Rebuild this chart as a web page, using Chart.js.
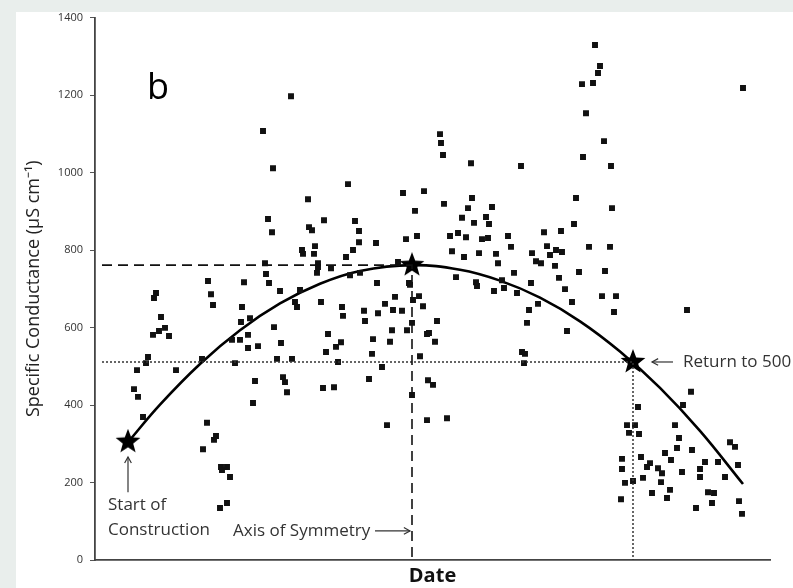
<!DOCTYPE html>
<html lang="en">
<head>
<meta charset="UTF-8">
<title>Specific Conductance</title>
<script src="https://cdn.jsdelivr.net/npm/chart.js"></script>
<style>
  html, body { margin: 0; padding: 0; background: #e9eeec; }
</style>
</head>
<body>
<canvas id="grafico" width="793" height="588"></canvas>

<script>
// x = day index since the start of the record (the axis has no labels)
const sampleDay = [
  39, 43, 48, 42, 53, 51, 61, 59, 66, 70, 64, 58, 74, 81, 107, 113, 116, 118, 149, 147,
  146, 155, 153, 145, 137, 153, 163, 140, 160, 158, 112, 121, 119, 108, 126, 127, 132, 135, 132, 125,
  168, 178, 196, 253, 213, 173, 177, 229, 214, 217, 260, 264, 264, 281, 207, 208, 220, 219, 258, 251,
  308, 329, 320, 311, 322, 170, 171, 174, 185, 223, 223, 222, 236, 255, 265, 205, 200, 202, 226, 282,
  303, 314, 300, 324, 328, 247, 248, 269, 270, 283, 290, 298, 307, 318, 179, 186, 182, 197, 188, 190,
  192, 228, 239, 233, 231, 241, 246, 243, 278, 277, 274, 287, 292, 297, 295, 312, 317, 325, 317, 332,
  332, 333, 345, 346, 348, 376, 426, 491, 488, 487, 498, 500, 505, 503, 509, 516, 349, 377, 373, 397,
  367, 379, 391, 394, 355, 363, 371, 387, 393, 413, 416, 357, 369, 384, 401, 403, 361, 381, 382, 399,
  407, 409, 419, 422, 436, 437, 441, 446, 449, 466, 452, 455, 461, 467, 460, 464, 470, 484, 481, 479,
  494, 477, 434, 443, 432, 342, 334, 340, 472, 427, 430, 429, 338, 352, 315, 648, 515, 510, 507, 521,
  517, 519, 592, 596, 588, 543, 532, 540, 534, 544, 580, 584, 582, 570, 576, 597, 546, 527, 527, 555,
  552, 563, 567, 566, 548, 587, 610, 605, 605, 623, 635, 640, 643, 630, 530, 538, 557, 575, 572, 613,
  619, 617, 526, 601, 644, 647
];
const conductance = [
  441, 421, 369, 490, 524, 508, 689, 676, 627, 599, 591, 581, 578, 490, 519, 720, 686, 658, 717, 653,
  614, 624, 581, 568, 568, 547, 552, 508, 462, 405, 354, 320, 310, 286, 240, 232, 240, 214, 147, 134,
  1107, 1011, 1197, 970, 931, 880, 846, 877, 859, 851, 875, 849, 820, 818, 800, 790, 810, 790, 800, 782,
  947, 952, 901, 828, 836, 766, 738, 715, 694, 766, 756, 741, 753, 735, 741, 697, 666, 653, 666, 715,
  769, 715, 679, 681, 655, 653, 630, 643, 617, 637, 661, 645, 643, 671, 601, 560, 519, 519, 472, 459,
  433, 444, 446, 583, 537, 550, 562, 511, 570, 532, 467, 498, 348, 593, 563, 593, 612, 526, 426, 583,
  361, 464, 1099, 1076, 1045, 1024, 1017, 1153, 1040, 1228, 1231, 1329, 1275, 1257, 1081, 1017, 919, 934, 908, 911,
  883, 870, 885, 867, 836, 844, 833, 828, 831, 836, 808, 797, 782, 792, 790, 766, 730, 717, 707, 694,
  722, 702, 741, 689, 715, 792, 771, 766, 846, 849, 810, 787, 800, 795, 759, 728, 699, 743, 934, 867,
  808, 666, 645, 661, 612, 617, 586, 563, 591, 537, 532, 508, 452, 366, 710, 1218, 808, 746, 681, 681,
  908, 640, 645, 434, 400, 395, 348, 348, 328, 325, 348, 315, 289, 276, 258, 284, 266, 261, 235, 250,
  240, 237, 224, 201, 212, 227, 253, 235, 214, 253, 304, 292, 245, 214, 199, 204, 173, 181, 160, 175,
  173, 147, 157, 134, 152, 119
];

// fitted curve
const fitDay   = [33, 65, 105, 145, 185, 225, 265, 317, 365, 405, 445, 485, 525, 565, 605, 648];
const fitValue = [304, 401, 506, 593, 662, 713, 746, 761, 749, 721, 677, 616, 538, 444, 333, 196];

// stars: start of construction, peak, return to 500
const starDay   = [33, 317, 538];
const starValue = [305, 761, 511];

const yTicks = [0, 200, 400, 600, 800, 1000, 1200, 1400];
const lineStartDay = 7;

// filled five point star used as point style
function crearEstrella(size) {
  const c = document.createElement('canvas');
  c.width = c.height = size;
  const g = c.getContext('2d');
  const R = size / 2, r = R * 0.42;
  g.beginPath();
  for (let i = 0; i < 10; i++) {
    const a = -Math.PI / 2 + i * Math.PI / 5;
    const rad = i % 2 ? r : R;
    g.lineTo(R + rad * Math.cos(a), R + rad * Math.sin(a));
  }
  g.closePath();
  g.fillStyle = '#000';
  g.fill();
  return c;
}

function flecha(ctx, x1, y1, x2, y2) {
  ctx.beginPath();
  ctx.moveTo(x1, y1);
  ctx.lineTo(x2, y2);
  ctx.stroke();
  const a = Math.atan2(y2 - y1, x2 - x1), h = 7;
  ctx.beginPath();
  ctx.moveTo(x2 - h * Math.cos(a - 0.5), y2 - h * Math.sin(a - 0.5));
  ctx.lineTo(x2, y2);
  ctx.lineTo(x2 - h * Math.cos(a + 0.5), y2 - h * Math.sin(a + 0.5));
  ctx.stroke();
}

// background panel + text labels and arrows
const notas = {
  id: 'notas',
  beforeDraw(chart) {
    const ctx = chart.ctx;
    ctx.save();
    ctx.fillStyle = '#e9eeec';
    ctx.fillRect(0, 0, chart.width, chart.height);
    ctx.fillStyle = '#ffffff';
    ctx.fillRect(16, 12, chart.width - 16, chart.height - 12);
    ctx.restore();
  },
  afterDatasetsDraw(chart) {
    const { ctx, scales: { x, y } } = chart;
    ctx.save();
    ctx.fillStyle = '#000';
    ctx.textBaseline = 'alphabetic';
    ctx.font = '36px "Open Sans"';
    ctx.fillText('b', x.getPixelForValue(52), y.getPixelForValue(1190));

    ctx.fillStyle = '#333';
    ctx.strokeStyle = '#333';
    ctx.lineWidth = 1.2;
    ctx.font = '17px "Open Sans"';
    ctx.fillText('Start of', x.getPixelForValue(13), y.getPixelForValue(129));
    ctx.fillText('Construction', x.getPixelForValue(13), y.getPixelForValue(65));
    flecha(ctx, x.getPixelForValue(33), y.getPixelForValue(175), x.getPixelForValue(33), y.getPixelForValue(266));

    ctx.fillText('Axis of Symmetry', x.getPixelForValue(138), y.getPixelForValue(62));
    flecha(ctx, x.getPixelForValue(280), y.getPixelForValue(75), x.getPixelForValue(315), y.getPixelForValue(75));

    ctx.fillText('Return to 500', x.getPixelForValue(588), y.getPixelForValue(498));
    flecha(ctx, x.getPixelForValue(578), y.getPixelForValue(511), x.getPixelForValue(557), y.getPixelForValue(511));
    ctx.restore();
  }
};

const ctx = document.getElementById('grafico').getContext('2d');

new Chart(ctx, {
  type: 'scatter',
  data: {
    datasets: [{
      // dashed reference lines through the peak
      data: [{ x: lineStartDay, y: starValue[1] }, { x: starDay[1], y: starValue[1] }, { x: starDay[1], y: 0 }],
      showLine: true, borderColor: '#111', borderWidth: 1.6, borderDash: [10, 6], pointRadius: 0, tension: 0
    }, {
      // dotted reference lines through the return point
      data: [{ x: lineStartDay, y: starValue[2] }, { x: starDay[2], y: starValue[2] }, { x: starDay[2], y: 0 }],
      showLine: true, borderColor: '#333', borderWidth: 1.5, borderDash: [2, 2], pointRadius: 0, tension: 0
    }, {
      data: sampleDay.map((d, i) => ({ x: d, y: conductance[i] })),
      pointStyle: 'rect',
      pointRadius: 4.2,
      backgroundColor: '#111',
      borderWidth: 0
    }, {
      data: fitDay.map((d, i) => ({ x: d, y: fitValue[i] })),
      showLine: true, borderColor: '#000', borderWidth: 2.6, pointRadius: 0, tension: 0.4
    }, {
      data: starDay.map((d, i) => ({ x: d, y: starValue[i] })),
      pointStyle: crearEstrella(26),
      pointRadius: 13
    }]
  },
  options: {
    responsive: false,
    animation: false,
    events: [],
    layout: { padding: { left: 16, top: 17.5, right: 23, bottom: 0 } },
    plugins: { legend: { display: false }, tooltip: { enabled: false } },
    scales: {
      x: {
        type: 'linear', min: 0, max: 675,
        grid: { display: false },
        border: { display: true, color: '#444', width: 1.8 },
        ticks: { display: false },
        title: {
          display: true, text: 'Date', color: '#111',
          font: { family: 'Open Sans', size: 20, weight: 'bold' },
          padding: { top: 0, bottom: 0 }
        },
        afterFit(scale) { scale.height = 28; }
      },
      y: {
        min: 0, max: 1400,
        afterBuildTicks(scale) { scale.ticks = yTicks.map(v => ({ value: v })); },
        grid: { drawOnChartArea: false, drawTicks: true, tickLength: 5, color: '#555' },
        border: { display: true, color: '#444', width: 1.8 },
        ticks: {
          color: '#333', padding: 7, font: { family: 'Open Sans', size: 11 },
          callback: v => String(v)
        },
        title: {
          display: true, text: 'Specific Conductance (µS cm⁻¹)', color: '#222',
          font: { family: 'Open Sans', size: 18 },
          padding: { top: 7, bottom: 0 }
        },
        afterFit(scale) { scale.width = 79; }
      }
    }
  },
  plugins: [notas]
});
</script>
</body>
</html>
